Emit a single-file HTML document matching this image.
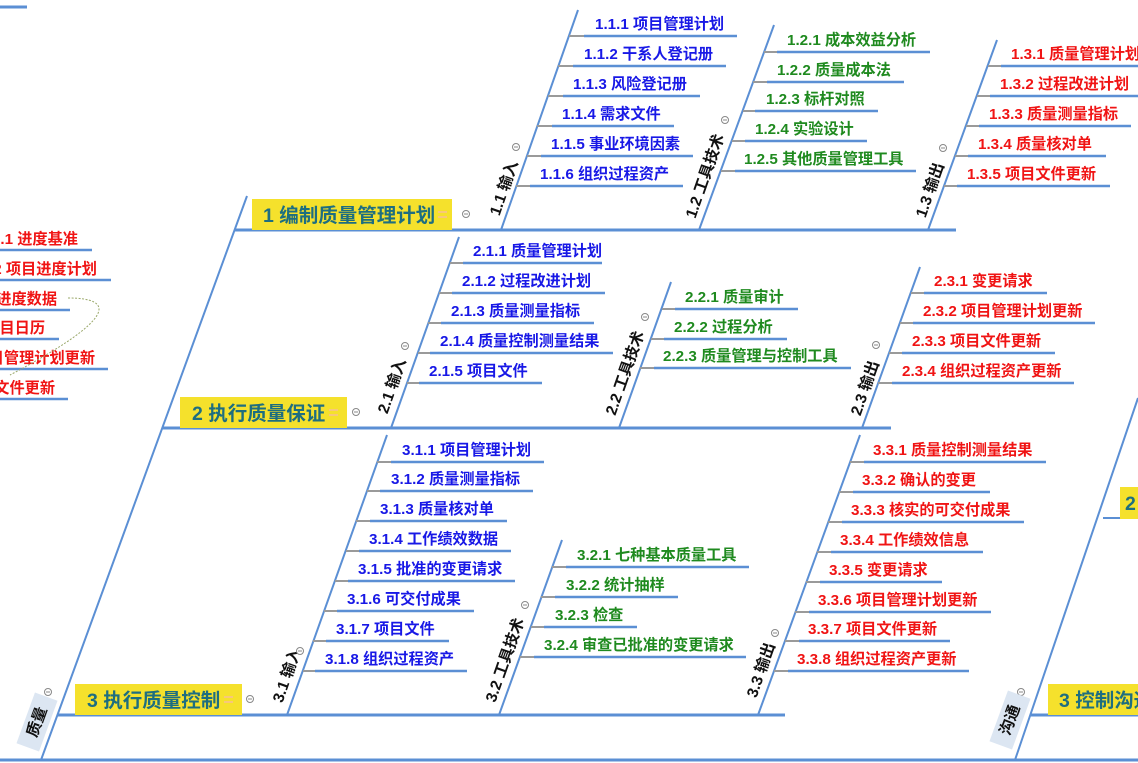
<!DOCTYPE html>
<html><head><meta charset="utf-8"><style>
html,body{margin:0;padding:0;background:#fff;}
svg{display:block;}
text{font-family:"Liberation Sans","Noto Sans CJK SC",sans-serif;font-weight:bold;}
.b{fill:#1818e6;font-size:15.2px;}
.g{fill:#1f8a1f;font-size:15.2px;}
.r{fill:#f01414;font-size:15.2px;}
.lb{fill:#111;font-size:15.5px;}
.bx{fill:#1e6e80;font-size:19.5px;}
.m{stroke:#5b8fd4;stroke-width:3;fill:none;}
.d{stroke:#5b8fd4;stroke-width:2;fill:none;}
.u{stroke:#5b8fd4;stroke-width:2.4;}
.s{stroke:#9a9a9a;stroke-width:2;}
.c{fill:#fff;stroke:#888;stroke-width:1;}
</style></head><body>
<svg width="1138" height="763" viewBox="0 0 1138 763" xmlns="http://www.w3.org/2000/svg">
<defs>
<g id="ci"><circle class="c" cx="0" cy="0" r="3.5"/><line x1="-2" y1="0" x2="2" y2="0" stroke="#888" stroke-width="1"/></g>
</defs>
<line x1="0" y1="760" x2="1138" y2="760" class="m" stroke-width="4"/>
<line x1="0" y1="7" x2="27" y2="7" class="m"/>

<line x1="247" y1="196" x2="41" y2="760" class="d"/>
<line x1="1138" y1="398" x2="1015" y2="760" class="d"/>

<line x1="235" y1="230" x2="956" y2="230" class="m"/>
<line x1="162" y1="428" x2="891" y2="428" class="m"/>
<line x1="58" y1="715" x2="785" y2="715" class="m"/>
<line x1="1103" y1="518" x2="1138" y2="518" class="d"/>
<line x1="1030" y1="715" x2="1138" y2="715" class="m"/>

<rect x="252" y="199" width="200" height="31" fill="#f5e12c"/>
<text x="263" y="222" class="bx">1 编制质量管理计划</text>
<line x1="438" y1="212" x2="447" y2="212" stroke="#f7c87a" stroke-width="2"/><line x1="438" y1="217" x2="447" y2="217" stroke="#f7c87a" stroke-width="2"/>
<use href="#ci" x="466" y="214"/>

<rect x="180" y="397" width="167" height="31" fill="#f5e12c"/>
<text x="192" y="420" class="bx">2 执行质量保证</text>
<line x1="329" y1="410" x2="338" y2="410" stroke="#f7c87a" stroke-width="2"/><line x1="329" y1="415" x2="338" y2="415" stroke="#f7c87a" stroke-width="2"/>
<use href="#ci" x="356" y="412"/>

<rect x="75" y="684" width="167" height="31" fill="#f5e12c"/>
<text x="87" y="707" class="bx">3 执行质量控制</text>
<line x1="224" y1="697" x2="233" y2="697" stroke="#f7c87a" stroke-width="2"/><line x1="224" y1="702" x2="233" y2="702" stroke="#f7c87a" stroke-width="2"/>
<use href="#ci" x="250" y="699"/>

<rect x="1120" y="487" width="18" height="32" fill="#f5e12c"/>
<text x="1125" y="510" class="bx">2</text>
<rect x="1048" y="684" width="90" height="31" fill="#f5e12c"/>
<text x="1059" y="707" class="bx">3 控制沟通</text>
<use href="#ci" x="1021" y="692"/>

<g transform="translate(37,722) rotate(-70)">
<rect x="-27" y="-12" width="54" height="24" fill="#dce6f2"/>
<text x="0" y="5" text-anchor="middle" class="lb" font-size="14">质量</text>
</g>
<use href="#ci" x="48" y="692"/>
<g transform="translate(1010,720) rotate(-70)">
<rect x="-27" y="-12" width="54" height="24" fill="#dce6f2"/>
<text x="0" y="5" text-anchor="middle" class="lb" font-size="14">沟通</text>
</g>

<text x="78" y="244" text-anchor="end" class="r">.1 进度基准</text><line x1="0" y1="250" x2="92" y2="250" class="u"/>
<text x="97" y="274" text-anchor="end" class="r">2 项目进度计划</text><line x1="0" y1="280" x2="111" y2="280" class="u"/>
<text x="57" y="304" text-anchor="end" class="r">进度数据</text><line x1="0" y1="310" x2="70" y2="310" class="u"/>
<text x="45" y="333" text-anchor="end" class="r">目日历</text><line x1="0" y1="339" x2="59" y2="339" class="u"/>
<text x="95" y="363" text-anchor="end" class="r">目管理计划更新</text><line x1="0" y1="369" x2="108" y2="369" class="u"/>
<text x="55" y="393" text-anchor="end" class="r">文件更新</text><line x1="0" y1="399" x2="68" y2="399" class="u"/>
<path d="M68 298 C115 298,118 318,10 375" fill="none" stroke="#9aa86a" stroke-width="1" stroke-dasharray="2,1.5"/>

<line x1="501" y1="230" x2="578" y2="10" class="d"/>
<text transform="translate(504,188) rotate(-70.7)" text-anchor="middle" y="5" class="lb">1.1 输入</text>
<use href="#ci" x="516" y="147"/>
<line x1="569" y1="36" x2="584" y2="36" class="s"/><line x1="584" y1="36" x2="737" y2="36" class="u"/><text x="595" y="29" class="b">1.1.1 项目管理计划</text>
<line x1="558" y1="66" x2="573" y2="66" class="s"/><line x1="573" y1="66" x2="726" y2="66" class="u"/><text x="584" y="59" class="b">1.1.2 干系人登记册</text>
<line x1="548" y1="96" x2="563" y2="96" class="s"/><line x1="563" y1="96" x2="700" y2="96" class="u"/><text x="573" y="89" class="b">1.1.3 风险登记册</text>
<line x1="537" y1="126" x2="552" y2="126" class="s"/><line x1="552" y1="126" x2="674" y2="126" class="u"/><text x="562" y="119" class="b">1.1.4 需求文件</text>
<line x1="527" y1="156" x2="541" y2="156" class="s"/><line x1="541" y1="156" x2="693" y2="156" class="u"/><text x="551" y="149" class="b">1.1.5 事业环境因素</text>
<line x1="516" y1="186" x2="530" y2="186" class="s"/><line x1="530" y1="186" x2="683" y2="186" class="u"/><text x="540" y="179" class="b">1.1.6 组织过程资产</text>

<line x1="699" y1="230" x2="774" y2="25" class="d"/>
<text transform="translate(705,176) rotate(-70.7)" text-anchor="middle" y="5" class="lb">1.2 工具技术</text>
<use href="#ci" x="725" y="120"/>
<line x1="764" y1="52" x2="777" y2="52" class="s"/><line x1="777" y1="52" x2="930" y2="52" class="u"/><text x="787" y="45" class="g">1.2.1 成本效益分析</text>
<line x1="753" y1="82" x2="767" y2="82" class="s"/><line x1="767" y1="82" x2="904" y2="82" class="u"/><text x="777" y="75" class="g">1.2.2 质量成本法</text>
<line x1="743" y1="111" x2="755" y2="111" class="s"/><line x1="755" y1="111" x2="878" y2="111" class="u"/><text x="766" y="104" class="g">1.2.3 标杆对照</text>
<line x1="732" y1="141" x2="745" y2="141" class="s"/><line x1="745" y1="141" x2="867" y2="141" class="u"/><text x="755" y="134" class="g">1.2.4 实验设计</text>
<line x1="721" y1="171" x2="735" y2="171" class="s"/><line x1="735" y1="171" x2="916" y2="171" class="u"/><text x="744" y="164" class="g">1.2.5 其他质量管理工具</text>

<line x1="928" y1="230" x2="997" y2="40" class="d"/>
<text transform="translate(930,190) rotate(-70.7)" text-anchor="middle" y="5" class="lb">1.3 输出</text>
<use href="#ci" x="943" y="148"/>
<line x1="988" y1="66" x2="1001" y2="66" class="s"/><line x1="1001" y1="66" x2="1138" y2="66" class="u"/><text x="1011" y="59" class="r">1.3.1 质量管理计划</text>
<line x1="977" y1="96" x2="990" y2="96" class="s"/><line x1="990" y1="96" x2="1138" y2="96" class="u"/><text x="1000" y="89" class="r">1.3.2 过程改进计划</text>
<line x1="966" y1="126" x2="979" y2="126" class="s"/><line x1="979" y1="126" x2="1131" y2="126" class="u"/><text x="989" y="119" class="r">1.3.3 质量测量指标</text>
<line x1="955" y1="156" x2="968" y2="156" class="s"/><line x1="968" y1="156" x2="1106" y2="156" class="u"/><text x="978" y="149" class="r">1.3.4 质量核对单</text>
<line x1="944" y1="186" x2="957" y2="186" class="s"/><line x1="957" y1="186" x2="1110" y2="186" class="u"/><text x="967" y="179" class="r">1.3.5 项目文件更新</text>

<line x1="391" y1="428" x2="459" y2="237" class="d"/>
<text transform="translate(392,386) rotate(-70.7)" text-anchor="middle" y="5" class="lb">2.1 输入</text>
<use href="#ci" x="405" y="346"/>
<line x1="450" y1="263" x2="463" y2="263" class="s"/><line x1="463" y1="263" x2="602" y2="263" class="u"/><text x="473" y="256" class="b">2.1.1 质量管理计划</text>
<line x1="439" y1="293" x2="452" y2="293" class="s"/><line x1="452" y1="293" x2="605" y2="293" class="u"/><text x="462" y="286" class="b">2.1.2 过程改进计划</text>
<line x1="428" y1="323" x2="441" y2="323" class="s"/><line x1="441" y1="323" x2="594" y2="323" class="u"/><text x="451" y="316" class="b">2.1.3 质量测量指标</text>
<line x1="418" y1="353" x2="430" y2="353" class="s"/><line x1="430" y1="353" x2="613" y2="353" class="u"/><text x="440" y="346" class="b">2.1.4 质量控制测量结果</text>
<line x1="407" y1="383" x2="419" y2="383" class="s"/><line x1="419" y1="383" x2="542" y2="383" class="u"/><text x="429" y="376" class="b">2.1.5 项目文件</text>

<line x1="619" y1="428" x2="671" y2="282" class="d"/>
<text transform="translate(625,373) rotate(-70.7)" text-anchor="middle" y="5" class="lb">2.2 工具技术</text>
<use href="#ci" x="645" y="317"/>
<line x1="662" y1="309" x2="675" y2="309" class="s"/><line x1="675" y1="309" x2="798" y2="309" class="u"/><text x="685" y="302" class="g">2.2.1 质量审计</text>
<line x1="651" y1="339" x2="664" y2="339" class="s"/><line x1="664" y1="339" x2="787" y2="339" class="u"/><text x="674" y="332" class="g">2.2.2 过程分析</text>
<line x1="640" y1="368" x2="654" y2="368" class="s"/><line x1="654" y1="368" x2="851" y2="368" class="u"/><text x="663" y="361" class="g">2.2.3 质量管理与控制工具</text>

<line x1="862" y1="428" x2="920" y2="267" class="d"/>
<text transform="translate(865,388) rotate(-70.7)" text-anchor="middle" y="5" class="lb">2.3 输出</text>
<use href="#ci" x="876" y="345"/>
<line x1="911" y1="293" x2="924" y2="293" class="s"/><line x1="924" y1="293" x2="1047" y2="293" class="u"/><text x="934" y="286" class="r">2.3.1 变更请求</text>
<line x1="900" y1="323" x2="913" y2="323" class="s"/><line x1="913" y1="323" x2="1095" y2="323" class="u"/><text x="923" y="316" class="r">2.3.2 项目管理计划更新</text>
<line x1="889" y1="353" x2="902" y2="353" class="s"/><line x1="902" y1="353" x2="1055" y2="353" class="u"/><text x="912" y="346" class="r">2.3.3 项目文件更新</text>
<line x1="878" y1="383" x2="892" y2="383" class="s"/><line x1="892" y1="383" x2="1074" y2="383" class="u"/><text x="902" y="376" class="r">2.3.4 组织过程资产更新</text>

<line x1="287" y1="715" x2="387" y2="435" class="d"/>
<text transform="translate(287,675) rotate(-70.7)" text-anchor="middle" y="5" class="lb">3.1 输入</text>
<use href="#ci" x="300" y="651"/>
<line x1="377" y1="462" x2="391" y2="462" class="s"/><line x1="391" y1="462" x2="544" y2="462" class="u"/><text x="402" y="455" class="b">3.1.1 项目管理计划</text>
<line x1="367" y1="491" x2="380" y2="491" class="s"/><line x1="380" y1="491" x2="533" y2="491" class="u"/><text x="391" y="484" class="b">3.1.2 质量测量指标</text>
<line x1="356" y1="521" x2="370" y2="521" class="s"/><line x1="370" y1="521" x2="507" y2="521" class="u"/><text x="380" y="514" class="b">3.1.3 质量核对单</text>
<line x1="346" y1="551" x2="359" y2="551" class="s"/><line x1="359" y1="551" x2="511" y2="551" class="u"/><text x="369" y="544" class="b">3.1.4 工作绩效数据</text>
<line x1="335" y1="581" x2="348" y2="581" class="s"/><line x1="348" y1="581" x2="515" y2="581" class="u"/><text x="358" y="574" class="b">3.1.5 批准的变更请求</text>
<line x1="324" y1="611" x2="337" y2="611" class="s"/><line x1="337" y1="611" x2="474" y2="611" class="u"/><text x="347" y="604" class="b">3.1.6 可交付成果</text>
<line x1="313" y1="641" x2="326" y2="641" class="s"/><line x1="326" y1="641" x2="449" y2="641" class="u"/><text x="336" y="634" class="b">3.1.7 项目文件</text>
<line x1="303" y1="671" x2="315" y2="671" class="s"/><line x1="315" y1="671" x2="467" y2="671" class="u"/><text x="325" y="664" class="b">3.1.8 组织过程资产</text>

<line x1="499" y1="715" x2="562" y2="540" class="d"/>
<text transform="translate(505,660) rotate(-70.7)" text-anchor="middle" y="5" class="lb">3.2 工具技术</text>
<use href="#ci" x="525" y="605"/>
<line x1="552" y1="567" x2="566" y2="567" class="s"/><line x1="566" y1="567" x2="749" y2="567" class="u"/><text x="577" y="560" class="g">3.2.1 七种基本质量工具</text>
<line x1="541" y1="597" x2="555" y2="597" class="s"/><line x1="555" y1="597" x2="678" y2="597" class="u"/><text x="566" y="590" class="g">3.2.2 统计抽样</text>
<line x1="531" y1="627" x2="544" y2="627" class="s"/><line x1="544" y1="627" x2="637" y2="627" class="u"/><text x="555" y="620" class="g">3.2.3 检查</text>
<line x1="520" y1="657" x2="534" y2="657" class="s"/><line x1="534" y1="657" x2="746" y2="657" class="u"/><text x="544" y="650" class="g">3.2.4 审查已批准的变更请求</text>

<line x1="758" y1="715" x2="860" y2="435" class="d"/>
<text transform="translate(761,670) rotate(-70.7)" text-anchor="middle" y="5" class="lb">3.3 输出</text>
<use href="#ci" x="775" y="633"/>
<line x1="850" y1="462" x2="864" y2="462" class="s"/><line x1="864" y1="462" x2="1046" y2="462" class="u"/><text x="873" y="455" class="r">3.3.1 质量控制测量结果</text>
<line x1="839" y1="492" x2="853" y2="492" class="s"/><line x1="853" y1="492" x2="990" y2="492" class="u"/><text x="862" y="485" class="r">3.3.2 确认的变更</text>
<line x1="828" y1="522" x2="842" y2="522" class="s"/><line x1="842" y1="522" x2="1024" y2="522" class="u"/><text x="851" y="515" class="r">3.3.3 核实的可交付成果</text>
<line x1="817" y1="552" x2="831" y2="552" class="s"/><line x1="831" y1="552" x2="983" y2="552" class="u"/><text x="840" y="545" class="r">3.3.4 工作绩效信息</text>
<line x1="806" y1="582" x2="820" y2="582" class="s"/><line x1="820" y1="582" x2="942" y2="582" class="u"/><text x="829" y="575" class="r">3.3.5 变更请求</text>
<line x1="795" y1="612" x2="809" y2="612" class="s"/><line x1="809" y1="612" x2="991" y2="612" class="u"/><text x="818" y="605" class="r">3.3.6 项目管理计划更新</text>
<line x1="785" y1="641" x2="799" y2="641" class="s"/><line x1="799" y1="641" x2="950" y2="641" class="u"/><text x="808" y="634" class="r">3.3.7 项目文件更新</text>
<line x1="774" y1="671" x2="788" y2="671" class="s"/><line x1="788" y1="671" x2="969" y2="671" class="u"/><text x="797" y="664" class="r">3.3.8 组织过程资产更新</text>
</svg>
</body></html>
